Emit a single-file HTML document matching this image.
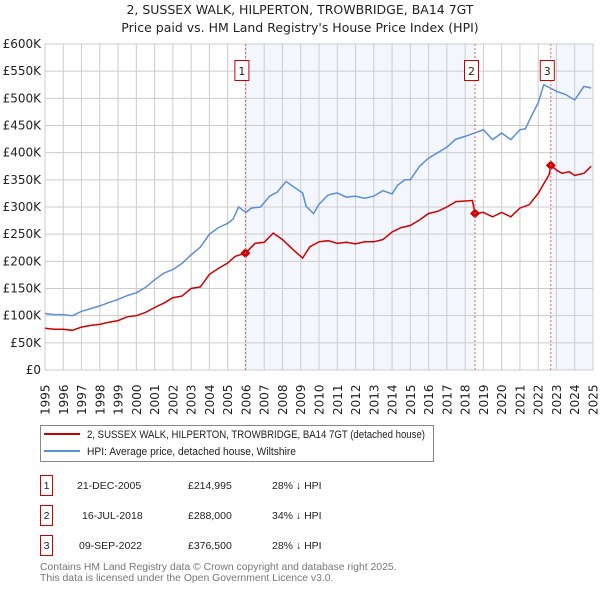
<!DOCTYPE html>
<html><head><meta charset="utf-8"><style>
body{margin:0;background:#fff;width:600px;height:590px;overflow:hidden;font-family:"DejaVu Sans","Liberation Sans",sans-serif;}
svg text{font-family:"DejaVu Sans","Liberation Sans",sans-serif;}
svg .ls{font-family:"Liberation Sans",sans-serif;}
</style></head><body>
<svg id="chart" width="600" height="590" viewBox="0 0 600 590" xmlns="http://www.w3.org/2000/svg">
<text x="300" y="14" text-anchor="middle" font-size="12.5" fill="#222">2, SUSSEX WALK, HILPERTON, TROWBRIDGE, BA14 7GT</text>
<text x="300" y="32" text-anchor="middle" font-size="12.5" fill="#222">Price paid vs. HM Land Registry's House Price Index (HPI)</text>
<g id="shade"></g><g id="grid"></g><g id="axes"></g><g id="series"></g><g id="markers"></g>
<g>
<rect x="40.5" y="425.5" width="393" height="36" fill="#fff" stroke="#888"/>
<line x1="44" y1="434" x2="80" y2="434" stroke="#cc0000" stroke-width="2"/>
<text class="ls" x="87" y="438" font-size="10.8" textLength="338" lengthAdjust="spacingAndGlyphs" fill="#222">2, SUSSEX WALK, HILPERTON, TROWBRIDGE, BA14 7GT (detached house)</text>
<line x1="44" y1="451" x2="80" y2="451" stroke="#5b8fd6" stroke-width="2"/>
<text class="ls" x="87" y="455" font-size="10.8" textLength="209" lengthAdjust="spacingAndGlyphs" fill="#222">HPI: Average price, detached house, Wiltshire</text>
</g>
<g class="ls" font-size="10.5" fill="#222">
<rect x="40.5" y="475.5" width="12" height="20" fill="#fff" stroke="#cc0000"/><text class="ls" x="46.5" y="489" text-anchor="middle">1</text>
<text class="ls" x="77" y="489">21-DEC-2005</text><text class="ls" x="188" y="489">£214,995</text><text class="ls" x="272" y="489">28% ↓ HPI</text>
<rect x="40.5" y="505.5" width="12" height="20" fill="#fff" stroke="#cc0000"/><text class="ls" x="46.5" y="519" text-anchor="middle">2</text>
<text class="ls" x="82" y="519">16-JUL-2018</text><text class="ls" x="188" y="519">£288,000</text><text class="ls" x="272" y="519">34% ↓ HPI</text>
<rect x="40.5" y="535.5" width="12" height="20" fill="#fff" stroke="#cc0000"/><text class="ls" x="46.5" y="549" text-anchor="middle">3</text>
<text class="ls" x="79" y="549">09-SEP-2022</text><text class="ls" x="188" y="549">£376,500</text><text class="ls" x="272" y="549">28% ↓ HPI</text>
</g>
<text class="ls" x="40" y="570" font-size="10.4" fill="#777">Contains HM Land Registry data © Crown copyright and database right 2025.</text>
<text class="ls" x="40" y="581" font-size="10.4" fill="#777">This data is licensed under the Open Government Licence v3.0.</text>
</svg>
<script>
const hpiYears=[1995,1995.5,1996,1996.5,1997,1997.5,1998,1998.5,1999,1999.5,2000,2000.5,2001,2001.5,2002,2002.5,2003,2003.5,2004,2004.5,2005,2005.3,2005.6,2006,2006.3,2006.8,2007.3,2007.7,2008.2,2008.7,2009.1,2009.3,2009.7,2010,2010.5,2011,2011.5,2012,2012.5,2013,2013.5,2014,2014.3,2014.7,2015,2015.5,2016,2016.5,2017,2017.5,2018,2018.5,2019,2019.5,2020,2020.5,2021,2021.3,2021.7,2022,2022.3,2022.6,2023,2023.5,2024,2024.5,2024.9];
const hpiValues=[104,102,102,100,108,113,118,124,130,137,142,152,166,178,185,196,212,226,250,262,270,278,300,290,298,300,320,327,347,335,326,301,288,305,322,326,318,320,316,320,330,324,340,350,350,375,390,400,410,425,430,436,442,424,436,424,442,444,472,492,525,520,513,507,497,522,519];
const ppYears=[1995,1995.5,1996,1996.5,1997,1997.5,1998,1998.5,1999,1999.5,2000,2000.5,2001,2001.5,2002,2002.5,2003,2003.5,2004,2004.5,2005,2005.4,2005.97,2006.5,2007,2007.5,2008,2008.6,2009.1,2009.5,2010,2010.5,2011,2011.5,2012,2012.5,2013,2013.5,2014,2014.5,2015,2015.5,2016,2016.5,2017,2017.5,2018.4,2018.54,2019,2019.5,2020,2020.5,2021,2021.5,2022,2022.6,2022.69,2023,2023.3,2023.7,2024,2024.5,2024.9];
const ppValues=[77,75,75,73,79,82,84,88,91,98,100,106,115,123,133,136,150,153,176,187,197,209,215,233,235,252,240,221,206,227,236,238,233,235,232,236,236,240,254,262,266,276,288,292,300,310,312,288,290,282,290,282,298,304,325,360,376.5,368,362,365,358,362,375];
const saleYears=[2005.97,2018.54,2022.69];
const saleValues=[214.995,288,376.5];
const saleLabels=["1","2","3"];
const yTicks=[0,50,100,150,200,250,300,350,400,450,500,550,600];
const yTickLabels=["£0","£50K","£100K","£150K","£200K","£250K","£300K","£350K","£400K","£450K","£500K","£550K","£600K"];
const xTicks=[1995,1996,1997,1998,1999,2000,2001,2002,2003,2004,2005,2006,2007,2008,2009,2010,2011,2012,2013,2014,2015,2016,2017,2018,2019,2020,2021,2022,2023,2024,2025];

const NS="http://www.w3.org/2000/svg";
const L=45,R=593,T=44,B=370;
const x=v=>L+(v-1995)/30*(R-L);
const y=v=>B-v/600*(B-T);
function mk(tag,attrs,parent){const e=document.createElementNS(NS,tag);for(const k in attrs)e.setAttribute(k,attrs[k]);document.getElementById(parent).appendChild(e);return e;}

let s=mk('rect',{x:x(saleYears[0]),y:T,width:x(saleYears[1])-x(saleYears[0]),height:B-T,fill:'#eef3fc',opacity:0.7},'shade');


s=mk('rect',{x:x(saleYears[2]),y:T,width:R-x(saleYears[2]),height:B-T,fill:'#eef3fc',opacity:0.7},'shade');



yTicks.forEach((v,i)=>{
 const g=mk('line',{x1:L,x2:R,y1:y(v),y2:y(v),stroke:'#cccccc','stroke-width':1},'grid');
 
 
 const t=mk('text',{x:L-4,y:y(v)+4,'text-anchor':'end','font-size':12,fill:'#222'},'axes');
 t.textContent=yTickLabels[i];
 
 
});
xTicks.forEach(v=>{
 const g=mk('line',{x1:x(v),x2:x(v),y1:T,y2:B,stroke:'#cccccc','stroke-width':1},'grid');
 
 
 const t=mk('text',{transform:`translate(${x(v)+4.5},${B+45}) rotate(-90)`,'font-size':12,fill:'#222'},'axes');
 t.textContent=String(v);
 
 
});
let fr=mk('rect',{x:L,y:T,width:R-L,height:B-T,fill:'none',stroke:'#cccccc'},'grid');



saleYears.forEach((v,i)=>{
 const l=mk('line',{x1:x(v),x2:x(v),y1:T,y2:B,stroke:'#e06666','stroke-width':1,'stroke-dasharray':'2,2'},'markers');
 
 
 const r=mk('rect',{x:x(v)-10.5,y:60.5,width:14,height:20,fill:'#fff',stroke:'#cc0000'},'markers');
 
 
 const t=mk('text',{x:x(v)-3.5,y:75,'text-anchor':'middle','font-size':11,fill:'#222'},'markers');
 t.textContent=saleLabels[i];
 
 
});

const pts=(xs,vs)=>xs.map((v,i)=>x(v).toFixed(1)+','+y(vs[i]).toFixed(1)).join(' ');
let h=mk('polyline',{points:pts(hpiYears,hpiValues),fill:'none',stroke:'#5b8fd6','stroke-width':1.5},'series');


let p=mk('polyline',{points:pts(ppYears,ppValues),fill:'none',stroke:'#cc0000','stroke-width':1.5},'series');


saleYears.forEach((v,i)=>{
 const c=mk('path',{d:`M${x(v)},${y(saleValues[i])-5}l5,5l-5,5l-5,-5z`,fill:'#cc0000'},'series');
 
 
});
</script>
</body></html>
